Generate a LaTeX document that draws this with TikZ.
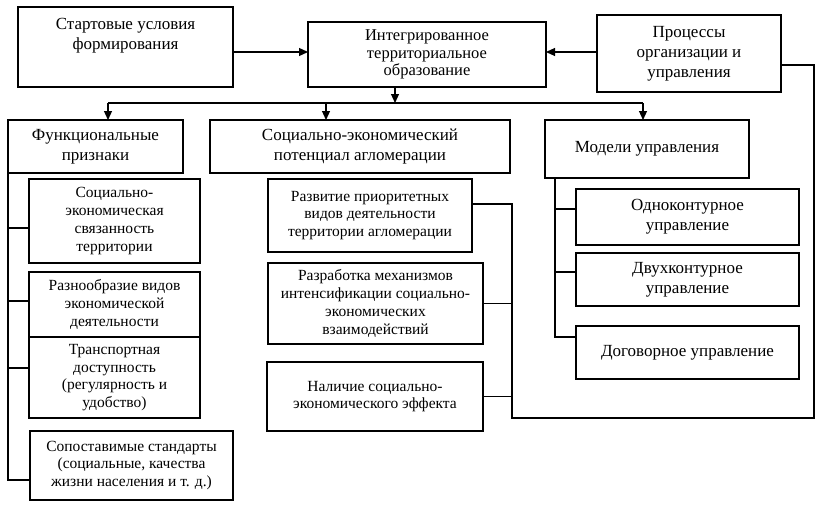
\documentclass[tikz,border=0pt]{standalone}
\usepackage{fontspec}
\setmainfont{Liberation Serif}
\usetikzlibrary{arrows.meta}
\begin{document}
\begin{tikzpicture}[x=1pt,y=-1pt,
  box/.style={draw, line width=1.2pt, inner sep=0pt, outer sep=0pt, align=center,
    font=\fontsize{17}{20}\selectfont},
  sub/.style={box, line width=1.6pt, font=\fontsize{15.5}{17.8}\selectfont},
  mbox/.style={box, line width=1.6pt},
  thickbox/.style={box, line width=2.6pt, font=\fontsize{16.5}{17.5}\selectfont},
  plain/.style={inner sep=0pt, align=center, font=\fontsize{17}{20}\selectfont},
  conn/.style={line width=1.2pt},
  arr/.style={conn, -{Triangle[length=9pt,width=8pt]}}]
\useasboundingbox (0,0) rectangle (824,506);
% top row
\node[box, minimum width=215, minimum height=80] (A) at (125.5,47) {};
\node[plain] (At) at (125.5,36) {Стартовые условия\\формирования};
\node[thickbox, minimum width=238, minimum height=65] (B) at (427,54.5) {Интегрированное\\территориальное\\образование};
\node[box, minimum width=184, minimum height=77] (C) at (689,53.5) {Процессы\\организации и\\управления};
% second row
\node[box, minimum width=175, minimum height=53] (F) at (95.5,146.5) {Функциональные\\признаки};
\node[box, minimum width=300, minimum height=53] (S) at (360,146.5) {Социально-экономический\\потенциал агломерации};
\node[box, minimum width=204, minimum height=58] (M) at (647,149) {Модели управления};
% left children
\node[sub, minimum width=171, minimum height=84] (F1) at (114.5,221) {Социально-\\экономическая\\связанность\\территории};
\node[sub, minimum width=171, minimum height=65] (F2) at (114.5,304.5) {Разнообразие видов\\экономической\\деятельности};
\node[sub, minimum width=171, minimum height=81] (F3) at (114.5,377.5) {Транспортная\\доступность\\(регулярность и\\удобство)};
\node[sub, minimum width=203, minimum height=69] (F4) at (131.5,465.5) {Сопоставимые стандарты\\(социальные, качества\\жизни населения и т. д.)};
% middle children
\node[sub, minimum width=204, minimum height=73] (S1) at (370,215.5) {Развитие приоритетных\\видов деятельности\\территории агломерации};
\node[sub, minimum width=215, minimum height=81] (S2) at (375.5,303.5) {Разработка механизмов\\интенсификации социально-\\экономических\\взаимодействий};
\node[sub, minimum width=216, minimum height=69] (S3) at (375,396.5) {Наличие социально-\\экономического эффекта};
% right children
\node[mbox, minimum width=223, minimum height=56] (M1) at (687.5,217) {Одноконтурное\\управление};
\node[mbox, minimum width=223, minimum height=53] (M2) at (687.5,279.5) {Двухконтурное\\управление};
\node[mbox, minimum width=223, minimum height=53] (M3) at (687.5,352.5) {Договорное управление};
% coordinates
\coordinate (ab) at (0,52);
\coordinate (bdn) at (395,103);
\coordinate (fb) at (108,103);
\coordinate (sb) at (326,103);
\coordinate (mb) at (643,103);
\coordinate (lb) at (8,480);
\coordinate (l1) at (8,228);
\coordinate (l2) at (8,301);
\coordinate (l3) at (8,368);
\coordinate (rt) at (814,65);
\coordinate (rb) at (814,418);
\coordinate (cb) at (512,418);
\coordinate (ct) at (512,204);
\coordinate (rv) at (555,337);
\coordinate (r1) at (555,209);
\coordinate (r2) at (555,272);
% connectors
\draw[arr] (A.east |- ab) -- (B.west |- ab);
\draw[arr] (C.west |- ab) -- (B.east |- ab);
\draw[arr] (B.south -| bdn) -- (bdn);
\draw[conn] (fb) -- (mb);
\draw[arr] (fb) -- (fb |- F.north);
\draw[arr] (sb) -- (sb |- S.north);
\draw[arr] (mb) -- (mb |- M.north);
\draw[conn] (F.south west) -- (lb) -- (lb -| F4.west);
\draw[conn] (l1) -- (l1 -| F1.west);
\draw[conn] (l2) -- (l2 -| F2.west);
\draw[conn] (l3) -- (l3 -| F3.west);
\draw[conn] (C.east |- rt) -- (rt) -- (rb) -- (cb) -- (ct) -- (ct -| S1.east);
\draw[conn, line width=1.6pt] (S2.east) -- (S2.east -| ct);
\draw[conn] (S3.east) -- (S3.east -| ct);
\draw[conn] (M.south -| rv) -- (rv) -- (rv -| M3.west);
\draw[conn] (r1) -- (r1 -| M1.west);
\draw[conn] (r2) -- (r2 -| M2.west);
\end{tikzpicture}
\end{document}
